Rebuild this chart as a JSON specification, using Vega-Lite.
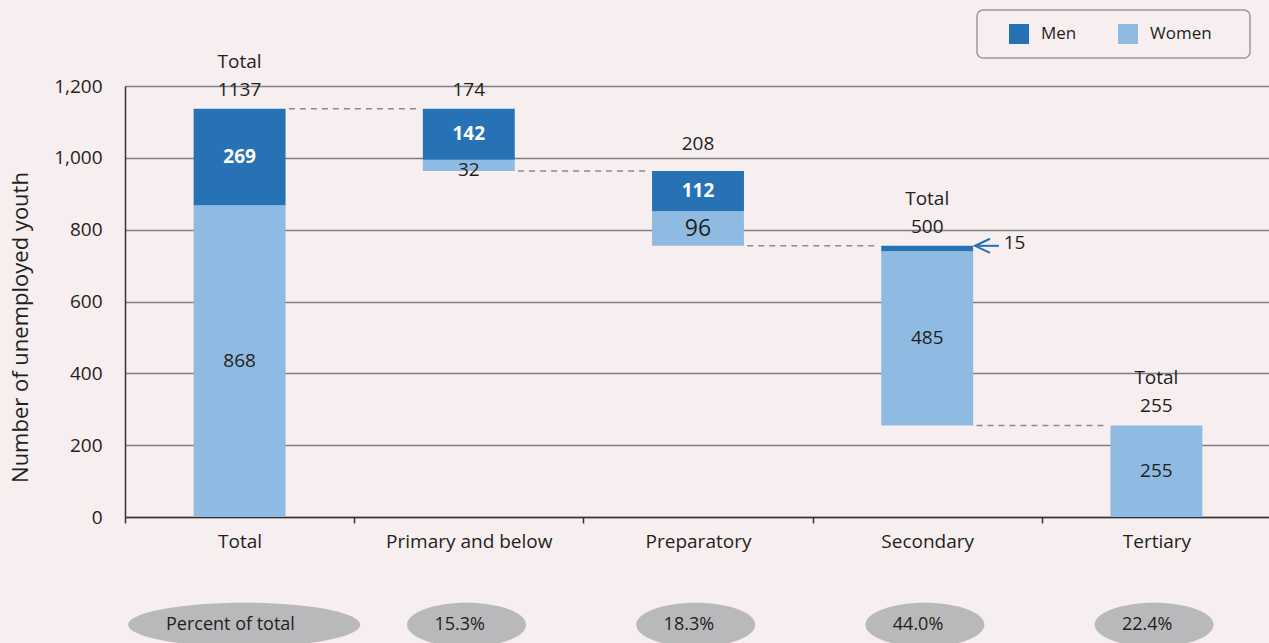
{
  "$schema": "https://vega.github.io/schema/vega-lite/v6.json",
  "width": 1146,
  "height": 431,
  "autosize": {"type": "none"},
  "padding": {"left": 125, "top": 86, "right": 0, "bottom": 126},
  "background": "#F7EEF0",
  "config": {
    "font": "Open Sans",
    "view": {"stroke": null},
    "text": {"font": "Open Sans", "fontSize": 19, "color": "#231F20"}
  },
  "datasets": {
    "segments": [
      {"category": "Total", "sex": "Women", "start": 0, "end": 868, "value": 868},
      {"category": "Total", "sex": "Men", "start": 868, "end": 1137, "value": 269},
      {"category": "Primary and below", "sex": "Women", "start": 963, "end": 995, "value": 32},
      {"category": "Primary and below", "sex": "Men", "start": 995, "end": 1137, "value": 142},
      {"category": "Preparatory", "sex": "Women", "start": 755, "end": 851, "value": 96},
      {"category": "Preparatory", "sex": "Men", "start": 851, "end": 963, "value": 112},
      {"category": "Secondary", "sex": "Women", "start": 255, "end": 740, "value": 485},
      {"category": "Secondary", "sex": "Men", "start": 740, "end": 755, "value": 15},
      {"category": "Tertiary", "sex": "Women", "start": 0, "end": 255, "value": 255}
    ],
    "tops": [
      {"category": "Total", "top": 1137, "value": 1137, "caption": "Total"},
      {"category": "Primary and below", "top": 1137, "value": 174, "caption": null},
      {"category": "Preparatory", "top": 963, "value": 208, "caption": null},
      {"category": "Secondary", "top": 755, "value": 500, "caption": "Total"},
      {"category": "Tertiary", "top": 255, "value": 255, "caption": "Total"}
    ],
    "links": [
      {"from": "Total", "to": "Primary and below", "level": 1137},
      {"from": "Primary and below", "to": "Preparatory", "level": 963},
      {"from": "Preparatory", "to": "Secondary", "level": 755},
      {"from": "Secondary", "to": "Tertiary", "level": 255}
    ],
    "percent": [
      {"category": "Total", "label": "Percent of total"},
      {"category": "Primary and below", "label": "15.3%"},
      {"category": "Preparatory", "label": "18.3%"},
      {"category": "Secondary", "label": "44.0%"},
      {"category": "Tertiary", "label": "22.4%"}
    ]
  },
  "layer": [
    {
      "data": {"name": "segments"},
      "mark": {"type": "bar", "width": {"band": 0.401}},
      "encoding": {
        "x": {
          "field": "category", "type": "nominal",
          "scale": {"domain": ["Total", "Primary and below", "Preparatory", "Secondary", "Tertiary"], "paddingInner": 0, "paddingOuter": 0},
          "axis": {
            "title": null, "labelAngle": 0, "labelFontSize": 19, "labelColor": "#231F20", "labelFont": "Open Sans",
            "labelPadding": 9, "tickSize": 6, "tickBand": "extent", "tickColor": "#333333", "tickWidth": 1.5,
            "domainColor": "#333333", "domainWidth": 1.5, "grid": false
          }
        },
        "y": {
          "field": "start", "type": "quantitative",
          "scale": {"domain": [0, 1200], "nice": false},
          "axis": {
            "values": [0, 200, 400, 600, 800, 1000, 1200], "format": ",.0f",
            "grid": true, "gridColor": "#7f7f7f", "gridWidth": 1.3,
            "tickSize": 0, "labelPadding": 23, "labelFontSize": 19, "labelColor": "#231F20", "labelFont": "Open Sans",
            "domainColor": "#333333", "domainWidth": 1.5,
            "title": "Number of unemployed youth", "titleFontSize": 22, "titleFontWeight": "normal", "titleFont": "Open Sans",
            "titleColor": "#231F20", "titleX": -105, "titleY": 241, "titleAngle": -90, "titleAlign": "center", "titleBaseline": "middle"
          }
        },
        "y2": {"field": "end"},
        "color": {
          "field": "sex", "type": "nominal",
          "scale": {"domain": ["Men", "Women"], "range": ["#2771B5", "#8FBBE2"]},
          "legend": {
            "orient": "none", "legendX": 852, "legendY": -76, "direction": "horizontal",
            "title": " ", "titleOrient": "left", "titlePadding": 18, "titleFontSize": 19,
            "symbolType": "square", "symbolSize": 400, "symbolStrokeWidth": 0, "symbolOpacity": 1,
            "labelFontSize": 17, "labelFont": "Open Sans", "labelColor": "#231F20", "labelOffset": 12,
            "labelExpr": "datum.label + '\u2800\u2800'",
            "columnPadding": 17, "padding": 14, "strokeColor": "#9a9a9e", "cornerRadius": 6,
            "encode": {"legend": {"update": {"strokeWidth": {"value": 1.5}}}}
          }
        }
      }
    },
    {
      "data": {"name": "links"},
      "mark": {"type": "rule", "color": "#8a8a8a", "strokeWidth": 1.5, "strokeDash": [6, 5]},
      "encoding": {
        "x": {"field": "from", "type": "nominal", "bandPosition": 0.715, "scale": {"domain": ["Total", "Primary and below", "Preparatory", "Secondary", "Tertiary"], "paddingInner": 0, "paddingOuter": 0}},
        "x2": {"field": "to", "bandPosition": 0.285},
        "y": {"field": "level", "type": "quantitative", "scale": {"domain": [0, 1200], "nice": false}}
      }
    },
    {
      "data": {"name": "segments"},
      "transform": [
        {"filter": "datum.sex === 'Men' && datum.category !== 'Secondary'"},
        {"calculate": "(datum.start + datum.end) / 2", "as": "mid"}
      ],
      "mark": {"type": "text", "color": "#ffffff", "fontWeight": "bold", "fontSize": 19, "baseline": "middle", "font": "Open Sans"},
      "encoding": {
        "x": {"field": "category", "type": "nominal", "scale": {"domain": ["Total", "Primary and below", "Preparatory", "Secondary", "Tertiary"], "paddingInner": 0, "paddingOuter": 0}},
        "y": {"field": "mid", "type": "quantitative", "scale": {"domain": [0, 1200], "nice": false}},
        "text": {"field": "value", "type": "quantitative"}
      }
    },
    {
      "data": {"name": "segments"},
      "transform": [
        {"filter": "datum.sex === 'Women' && datum.category !== 'Primary and below'"},
        {"calculate": "(datum.start + datum.end) / 2", "as": "mid"}
      ],
      "mark": {"type": "text", "color": "#231F20", "baseline": "middle", "font": "Open Sans"},
      "encoding": {
        "x": {"field": "category", "type": "nominal", "scale": {"domain": ["Total", "Primary and below", "Preparatory", "Secondary", "Tertiary"], "paddingInner": 0, "paddingOuter": 0}},
        "y": {"field": "mid", "type": "quantitative", "scale": {"domain": [0, 1200], "nice": false}},
        "text": {"field": "value", "type": "quantitative"},
        "size": {"condition": {"test": "datum.category === 'Preparatory'", "value": 23}, "value": 19}
      }
    },
    {
      "data": {"name": "segments"},
      "transform": [
        {"filter": "datum.sex === 'Women' && datum.category === 'Primary and below'"},
        {"calculate": "(datum.start + datum.end) / 2", "as": "mid"}
      ],
      "mark": {"type": "text", "color": "#231F20", "fontSize": 19, "baseline": "middle", "dy": 5, "font": "Open Sans"},
      "encoding": {
        "x": {"field": "category", "type": "nominal", "scale": {"domain": ["Total", "Primary and below", "Preparatory", "Secondary", "Tertiary"], "paddingInner": 0, "paddingOuter": 0}},
        "y": {"field": "mid", "type": "quantitative", "scale": {"domain": [0, 1200], "nice": false}},
        "text": {"field": "value", "type": "quantitative"}
      }
    },
    {
      "data": {"name": "tops"},
      "transform": [{"filter": "datum.category !== 'Preparatory'"}],
      "mark": {"type": "text", "color": "#231F20", "fontSize": 19, "baseline": "bottom", "dy": -9, "font": "Open Sans"},
      "encoding": {
        "x": {"field": "category", "type": "nominal", "scale": {"domain": ["Total", "Primary and below", "Preparatory", "Secondary", "Tertiary"], "paddingInner": 0, "paddingOuter": 0}},
        "y": {"field": "top", "type": "quantitative", "scale": {"domain": [0, 1200], "nice": false}},
        "text": {"field": "value", "type": "quantitative"}
      }
    },
    {
      "data": {"name": "tops"},
      "transform": [{"filter": "datum.category === 'Preparatory'"}],
      "mark": {"type": "text", "color": "#231F20", "fontSize": 19, "baseline": "bottom", "dy": -17, "font": "Open Sans"},
      "encoding": {
        "x": {"field": "category", "type": "nominal", "scale": {"domain": ["Total", "Primary and below", "Preparatory", "Secondary", "Tertiary"], "paddingInner": 0, "paddingOuter": 0}},
        "y": {"field": "top", "type": "quantitative", "scale": {"domain": [0, 1200], "nice": false}},
        "text": {"field": "value", "type": "quantitative"}
      }
    },
    {
      "data": {"name": "tops"},
      "transform": [{"filter": "datum.caption !== null"}],
      "mark": {"type": "text", "color": "#231F20", "fontSize": 19, "baseline": "bottom", "dy": -37, "font": "Open Sans"},
      "encoding": {
        "x": {"field": "category", "type": "nominal", "scale": {"domain": ["Total", "Primary and below", "Preparatory", "Secondary", "Tertiary"], "paddingInner": 0, "paddingOuter": 0}},
        "y": {"field": "top", "type": "quantitative", "scale": {"domain": [0, 1200], "nice": false}},
        "text": {"field": "caption", "type": "nominal"}
      }
    },
    {
      "data": {"name": "segments"},
      "transform": [{"filter": "datum.sex === 'Men' && datum.category === 'Secondary'"}],
      "mark": {"type": "rule", "color": "#2771B5", "strokeWidth": 2},
      "encoding": {
        "x": {"field": "category", "type": "nominal", "bandPosition": 0.709, "scale": {"domain": ["Total", "Primary and below", "Preparatory", "Secondary", "Tertiary"], "paddingInner": 0, "paddingOuter": 0}},
        "x2": {"field": "category", "bandPosition": 0.813},
        "y": {"field": "end", "type": "quantitative", "scale": {"domain": [0, 1200], "nice": false}}
      }
    },
    {
      "data": {"name": "segments"},
      "transform": [{"filter": "datum.sex === 'Men' && datum.category === 'Secondary'"}],
      "mark": {"type": "point", "shape": "M 0 -0.47 L -1 0 L 0 0.47", "size": 900, "filled": false, "stroke": "#2771B5", "strokeWidth": 2, "opacity": 1},
      "encoding": {
        "x": {"field": "category", "type": "nominal", "bandPosition": 0.774, "scale": {"domain": ["Total", "Primary and below", "Preparatory", "Secondary", "Tertiary"], "paddingInner": 0, "paddingOuter": 0}},
        "y": {"field": "end", "type": "quantitative", "scale": {"domain": [0, 1200], "nice": false}}
      }
    },
    {
      "data": {"name": "segments"},
      "transform": [{"filter": "datum.sex === 'Men' && datum.category === 'Secondary'"}],
      "mark": {"type": "text", "color": "#231F20", "fontSize": 19, "align": "left", "baseline": "middle", "dy": -3, "font": "Open Sans"},
      "encoding": {
        "x": {"field": "category", "type": "nominal", "bandPosition": 0.834, "scale": {"domain": ["Total", "Primary and below", "Preparatory", "Secondary", "Tertiary"], "paddingInner": 0, "paddingOuter": 0}},
        "y": {"field": "end", "type": "quantitative", "scale": {"domain": [0, 1200], "nice": false}},
        "text": {"field": "value", "type": "quantitative"}
      }
    },
    {
      "data": {"name": "percent"},
      "transform": [{"filter": "datum.category === 'Total'"}],
      "mark": {"type": "point", "shape": "M -1 0 A 1 0.19 0 1 1 1 0 A 1 0.19 0 1 1 -1 0 Z", "size": 53824, "filled": true, "color": "#B9B9BB", "opacity": 1, "strokeWidth": 0},
      "encoding": {
        "x": {"field": "category", "type": "nominal", "bandPosition": 0.52, "scale": {"domain": ["Total", "Primary and below", "Preparatory", "Secondary", "Tertiary"], "paddingInner": 0, "paddingOuter": 0}},
        "y": {"datum": -300, "type": "quantitative", "scale": {"domain": [0, 1200], "nice": false}}
      }
    },
    {
      "data": {"name": "percent"},
      "transform": [{"filter": "datum.category !== 'Total'"}],
      "mark": {"type": "point", "shape": "M -1 0 A 1 0.37 0 1 1 1 0 A 1 0.37 0 1 1 -1 0 Z", "size": 14161, "filled": true, "color": "#B9B9BB", "opacity": 1, "strokeWidth": 0},
      "encoding": {
        "x": {"field": "category", "type": "nominal", "bandPosition": 0.49, "scale": {"domain": ["Total", "Primary and below", "Preparatory", "Secondary", "Tertiary"], "paddingInner": 0, "paddingOuter": 0}},
        "y": {"datum": -300, "type": "quantitative", "scale": {"domain": [0, 1200], "nice": false}}
      }
    },
    {
      "data": {"name": "percent"},
      "mark": {"type": "text", "color": "#231F20", "fontSize": 18, "baseline": "middle", "font": "Open Sans"},
      "encoding": {
        "x": {"field": "category", "type": "nominal", "bandPosition": 0.46, "scale": {"domain": ["Total", "Primary and below", "Preparatory", "Secondary", "Tertiary"], "paddingInner": 0, "paddingOuter": 0}},
        "y": {"datum": -300, "type": "quantitative", "scale": {"domain": [0, 1200], "nice": false}},
        "text": {"field": "label", "type": "nominal"}
      }
    }
  ]
}
